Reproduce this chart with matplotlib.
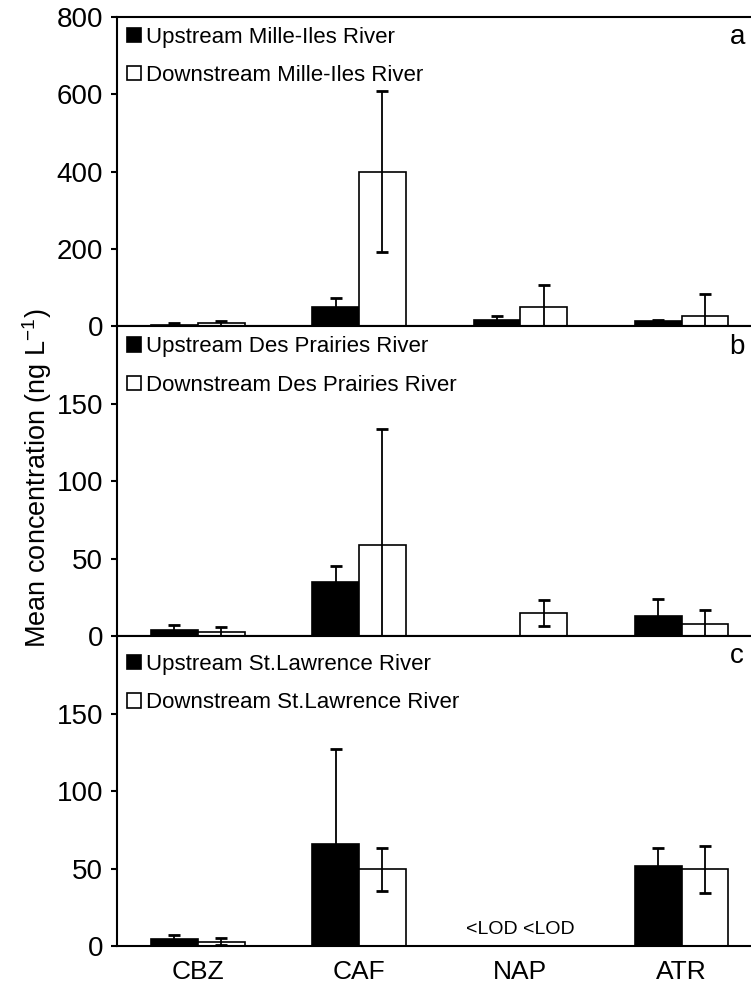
import numpy as np
import matplotlib
matplotlib.use("Agg")
import matplotlib.pyplot as plt
from matplotlib.patches import Patch

plt.rcParams['font.family'] = ['Liberation Sans', 'DejaVu Sans']
plt.rcParams['mathtext.fontset'] = 'custom'
plt.rcParams['mathtext.rm'] = 'Liberation Sans'
plt.rcParams['mathtext.it'] = 'Liberation Sans'

# compounds
categories = ["CBZ", "CAF", "NAP", "ATR"]

# panel a - Mille-Iles River
a_up = [5, 50, 16, 13]
a_up_err = [4, 24, 11, 5]
a_dn = [8, 400, 50, 27]
a_dn_err = [6, 208, 58, 56]

# panel b - Des Prairies River
b_up = [4, 35, np.nan, 13]
b_up_err = [3.5, 10.5, np.nan, 11]
b_dn = [3, 59, 15, 8]
b_dn_err = [3, 75, 8.5, 9]

# panel c - St.Lawrence River (NAP below LOD)
c_up = [4.4, 66, np.nan, 51.5]
c_up_err = [2.5, 61, np.nan, 12]
c_dn = [2.9, 49.5, np.nan, 49.5]
c_dn_err = [2, 14, np.nan, 15]

panels = [
    ("a", "Mille-Iles River", a_up, a_up_err, a_dn, a_dn_err, 800, [0, 200, 400, 600, 800]),
    ("b", "Des Prairies River", b_up, b_up_err, b_dn, b_dn_err, 200, [0, 50, 100, 150]),
    ("c", "St.Lawrence River", c_up, c_up_err, c_dn, c_dn_err, 200, [0, 50, 100, 150]),
]

fig = plt.figure(figsize=(7.51, 9.85), dpi=100)
gs = fig.add_gridspec(3, 1, left=0.156, right=1.015, top=0.983, bottom=0.0396, hspace=0)

x = np.arange(len(categories))
w = 0.29
lw = 1.5

axes = []
for i, (letter, river, up, up_err, dn, dn_err, ymax, yticks) in enumerate(panels):
    ax = fig.add_subplot(gs[i])
    axes.append(ax)
    ax.bar(x - w / 2, up, w, color="black", edgecolor="black", linewidth=1.2, zorder=2)
    ax.bar(x + w / 2, dn, w, color="white", edgecolor="black", linewidth=1.2, zorder=2)
    ax.errorbar(x - w / 2, up, yerr=up_err, fmt="none", ecolor="black",
                elinewidth=1.3, capsize=4.3, capthick=2, zorder=3)
    ax.errorbar(x + w / 2, dn, yerr=dn_err, fmt="none", ecolor="black",
                elinewidth=1.3, capsize=4.3, capthick=2, zorder=3)

    ax.set_xlim(-0.5, 3.5)
    ax.set_ylim(0, ymax)
    ax.set_yticks(yticks)
    ax.tick_params(axis="y", direction="out", length=4, width=lw, labelsize=20, pad=6)
    ax.tick_params(axis="x", length=0, labelsize=19, pad=10)
    ax.set_xticks(x)
    if i < 2:
        ax.set_xticklabels([])
    else:
        ax.set_xticklabels(categories)
    for s in ax.spines.values():
        s.set_linewidth(lw)
    ax.spines["bottom"].set_zorder(4)

    handles = [Patch(facecolor="black", edgecolor="black", linewidth=1.2),
               Patch(facecolor="white", edgecolor="black", linewidth=1.2)]
    labels = ["Upstream " + river, "Downstream " + river]
    yoff = 1.0 if i < 2 else 0.975
    ax.legend(handles, labels, loc="upper left", bbox_to_anchor=(0.0, yoff),
              frameon=False, fontsize=16, handlelength=0.62, handleheight=0.62,
              handletextpad=0.25, labelspacing=0.78, borderaxespad=0.3,
              borderpad=0.15)
    ax.text(0.961, 0.935, letter, transform=ax.transAxes, ha="center",
            va="center", fontsize=20)

axes[2].text(2, 10.5, "<LOD <LOD", ha="center", va="center", fontsize=14)

fig.text(0.05, 0.515, "Mean concentration (ng L$^{-1}$)", rotation=90,
         ha="center", va="center", fontsize=19.5)

fig.savefig("out.png", dpi=100)
